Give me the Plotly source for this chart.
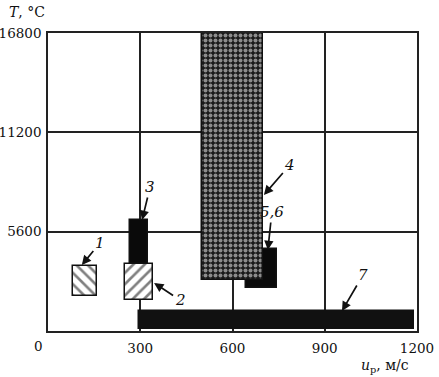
import plotly.graph_objects as go

# ---- data ----
box_labels = ["1", "2", "3", "4", "5,6", "7"]
u_lo = [80, 250, 268, 500, 645, 295]       # u_p lower bound, m/s
u_hi = [160, 340, 326, 700, 745, 1190]     # u_p upper bound, m/s
t_lo = [2000, 1750, 3780, 2850, 2400, 100]  # T lower bound, °C
t_hi = [3650, 3780, 6250, 16800, 4600, 1100]  # T upper bound, °C

x_ticks = [0, 300, 600, 900, 1200]
y_ticks = [5600, 11200, 16800]

# arrow tips (data coords) for the numbered labels
tip_u = [110, 345, 306, 702, 715, 956]
tip_t = [3720, 2706, 6258, 7668, 4567, 1128]

# ---- styles ----
styles = {
    "1": dict(color="white", pattern=dict(shape="\\", fgcolor="#000", bgcolor="white", size=8, solidity=0.33)),
    "2": dict(color="white", pattern=dict(shape="/", fgcolor="#000", bgcolor="white", size=8, solidity=0.33)),
    "3": dict(color="#0a0a0a"),
    "4": dict(color="#1a1a1a", pattern=dict(shape=".", fgcolor="white", bgcolor="#1a1a1a", size=5, solidity=0.5)),
    "5,6": dict(color="#0a0a0a"),
    "7": dict(color="#111"),
}
draw_order = ["1", "2", "3", "5,6", "4", "7"]
offsets = {"1": (18, -22), "2": (26, 17), "3": (8, -33), "4": (26, -30), "5,6": (4, -38), "7": (21, -36)}

fig = go.Figure()
for lab in draw_order:
    i = box_labels.index(lab)
    st = styles[lab]
    marker = dict(color=st["color"], line=dict(color="#111", width=1.5))
    if "pattern" in st:
        marker["pattern"] = st["pattern"]
    fig.add_trace(go.Bar(
        x=[(u_lo[i] + u_hi[i]) / 2],
        y=[t_hi[i] - t_lo[i]],
        base=[t_lo[i]],
        width=[u_hi[i] - u_lo[i]],
        marker=marker,
        showlegend=False,
        hoverinfo="skip",
    ))

serif = "DejaVu Serif"
for i, lab in enumerate(box_labels):
    ax, ay = offsets[lab]
    fig.add_annotation(
        x=tip_u[i], y=tip_t[i], xref="x", yref="y",
        text=f"<i>{lab}</i>", ax=ax, ay=ay,
        showarrow=True, arrowhead=2, arrowsize=1.1, arrowwidth=1.7, arrowcolor="#111",
        font=dict(family=serif, size=15, color="#111"),
    )

# axis titles and origin label
fig.add_annotation(xref="paper", yref="paper", x=-0.111, y=1.072, xanchor="left", yanchor="middle",
                   text="<i>T</i>, °C", showarrow=False, font=dict(family=serif, size=14, color="#111"))
fig.add_annotation(xref="paper", yref="paper", x=0.985, y=-0.117, xanchor="right", yanchor="middle",
                   text="<i>u</i><sub>p</sub>, м/с", showarrow=False, font=dict(family=serif, size=14, color="#111"))
fig.add_annotation(xref="x", yref="paper", x=0, y=0, xshift=-10, yshift=-5, yanchor="top",
                   text="0", showarrow=False, font=dict(family=serif, size=13.5, color="#111"))

fig.update_layout(
    width=439, height=377,
    margin=dict(l=48, r=22, t=33, b=46, autoexpand=False),
    paper_bgcolor="white", plot_bgcolor="white",
    barmode="overlay", bargap=0,
    font=dict(family=serif, size=13.5, color="#111"),
)
fig.update_xaxes(range=[0, 1200], tickvals=x_ticks, ticktext=[""] + [str(v) for v in x_ticks[1:]],
                 showgrid=True, gridcolor="#222", gridwidth=1.5,
                 showline=True, mirror=True, linecolor="#222", linewidth=1.5,
                 ticks="", zeroline=False, fixedrange=True, ticklabelstandoff=4, automargin=False)
fig.update_yaxes(range=[0, 16800], tickvals=y_ticks, ticktext=[str(v) for v in y_ticks],
                 showgrid=True, gridcolor="#222", gridwidth=1.5,
                 showline=True, mirror=True, linecolor="#222", linewidth=1.5,
                 ticks="", zeroline=False, fixedrange=True, ticklabelstandoff=2, automargin=False)

fig.write_html("out.html", config={"displayModeBar": False},
               post_script="document.body.style.margin='0px';document.body.style.padding='0px';")
